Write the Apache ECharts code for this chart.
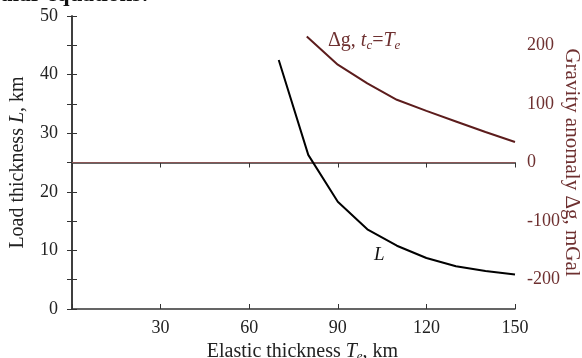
<!DOCTYPE html>
<html><head><meta charset="utf-8">
<script src="https://cdn.jsdelivr.net/npm/echarts@6/dist/echarts.min.js"></script>
<style>html,body{margin:0;padding:0;background:#fff}#c{width:582px;height:358px}</style>
</head><body><div id="c"></div>
<script>
// Data
var T_L = [70, 80, 90, 100, 110, 120, 130, 140, 150];
var L_values = [42.5, 26.3, 18.3, 13.6, 10.8, 8.7, 7.3, 6.5, 5.9];
var T_G = [79.5, 90, 100, 110, 120, 130, 140, 150];
var G_values = [215, 167, 135, 107, 88, 70, 52, 35];
var refLine = [[0, 25], [150, 25]];
var xTicks = [30, 60, 90, 120, 150];
var leftTicks = [0, 10, 20, 30, 40, 50];
var rightTicks = [-200, -100, 0, 100, 200];

var FONT = 'Liberation Serif';
var BROWN = '#5c1c1c';
var BROWN_T = '#6e3030';
var AX = '#333';

var chart = echarts.init(document.getElementById('c'));
chart.setOption({
  animation: false,
  backgroundColor: '#fff',
  grid: {left: 72, right: 67, top: 16, bottom: 49, containLabel: false, outerBoundsMode: 'none'},
  xAxis: [{
    type: 'value', min: 0, max: 150, interval: 30, position: 'bottom',
    axisLine: {lineStyle: {color: AX, width: 1.5}},
    axisTick: {inside: true, length: 5, lineStyle: {color: AX}},
    splitLine: {show: false},
    axisLabel: {fontFamily: FONT, fontSize: 18, color: '#222', margin: 10,
      formatter: function (v) { return xTicks.indexOf(v) >= 0 ? String(v) : ''; }},
    name: 'Elastic thickness {i|T}{s|e}, km', nameLocation: 'middle', nameGap: 32,
    nameTextStyle: {fontFamily: FONT, fontSize: 20, color: '#222', padding: [0, 0, 0, 18],
      rich: {i: {fontFamily: FONT, fontStyle: 'italic', fontSize: 20, color: '#222'},
             s: {fontFamily: FONT, fontStyle: 'italic', fontSize: 13, color: '#222', padding: [9, 0, 0, 0]}}}
  }, {
    type: 'value', min: 0, max: 150, interval: 30, position: 'top',
    axisLine: {lineStyle: {color: AX, width: 1.5}},
    axisTick: {inside: true, length: 5, lineStyle: {color: AX}},
    axisLabel: {show: false}, splitLine: {show: false}
  }],
  yAxis: [{
    type: 'value', min: 0, max: 50, interval: 5, position: 'left',
    axisLine: {show: true, lineStyle: {color: AX, width: 1.5}},
    axisTick: {show: true, inside: true, length: 5, lineStyle: {color: AX}},
    splitLine: {show: false},
    axisLabel: {fontFamily: FONT, fontSize: 18, color: '#222', margin: 14,
      formatter: function (v) { return leftTicks.indexOf(v) >= 0 ? String(v) : ''; }},
    name: 'Load thickness {i|L}, km', nameLocation: 'middle', nameGap: 44, nameRotate: 90,
    nameTextStyle: {fontFamily: FONT, fontSize: 20, color: '#222',
      rich: {i: {fontFamily: FONT, fontStyle: 'italic', fontSize: 20, color: '#222'}}}
  }, {
    type: 'value', min: -250, max: 250, interval: 50, position: 'right',
    axisLine: {show: true, lineStyle: {color: AX, width: 1.5}},
    axisTick: {show: true, inside: true, length: 5, lineStyle: {color: AX}},
    splitLine: {show: false},
    axisLabel: {fontFamily: FONT, fontSize: 18, color: BROWN_T, margin: 12,
      formatter: function (v) { return rightTicks.indexOf(v) >= 0 ? String(v) : ''; }},
    name: 'Gravity anomaly Δg, mGal', nameLocation: 'middle', nameGap: 46, nameRotate: -90,
    nameMoveOverlap: false,
    nameTextStyle: {fontFamily: FONT, fontSize: 21, color: BROWN_T}
  }],
  series: [{
    type: 'line', xAxisIndex: 0, yAxisIndex: 0, symbol: 'none',
    data: refLine, lineStyle: {color: '#8a5555', width: 1}, silent: true
  }, {
    type: 'line', xAxisIndex: 0, yAxisIndex: 0, symbol: 'none',
    data: T_L.map(function (t, i) { return [t, L_values[i]]; }),
    lineStyle: {color: '#000', width: 2}
  }, {
    type: 'line', xAxisIndex: 0, yAxisIndex: 1, symbol: 'none',
    data: T_G.map(function (t, i) { return [t, G_values[i]]; }),
    lineStyle: {color: BROWN, width: 2}
  }],
  graphic: [{
    type: 'text', left: 0, top: -16,
    style: {text: 'ular equations:', font: 'bold 23px "Liberation Serif"', fill: '#111'}
  }, {
    type: 'text', left: 328, top: 31,
    style: {text: '{n|Δg, }{i|t}{s|c}{n|=}{i|T}{s|e}', fill: BROWN_T,
      rich: {n: {font: '20px "Liberation Serif"', fill: BROWN_T},
             i: {font: 'italic 20px "Liberation Serif"', fill: BROWN_T},
             s: {font: 'italic 13px "Liberation Serif"', fill: BROWN_T, padding: [10, 0, 0, 0]}}}
  }, {
    type: 'text', left: 374, top: 245,
    style: {text: 'L', font: 'italic 19px "Liberation Serif"', fill: '#111'}
  }]
});
</script></body></html>
